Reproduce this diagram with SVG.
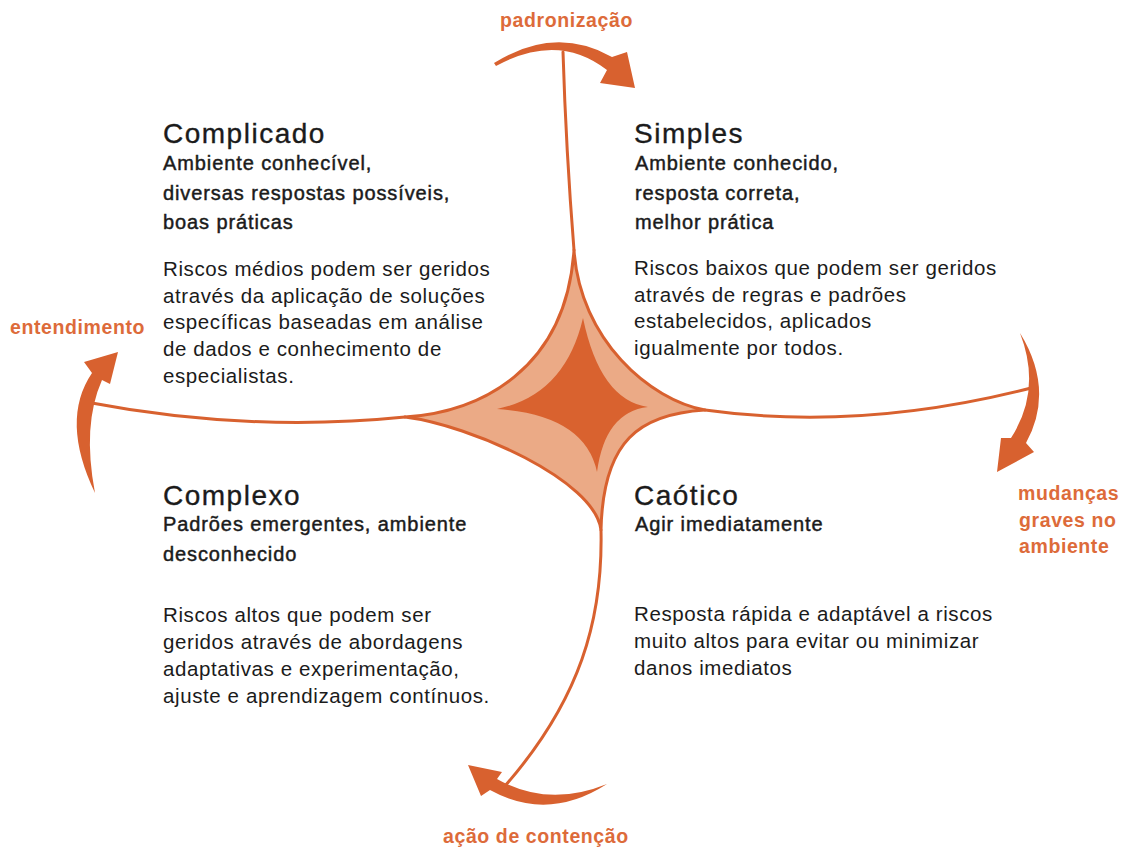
<svg xmlns="http://www.w3.org/2000/svg" width="1128" height="849" viewBox="0 0 1128 849">
<style>
.t{font-family:"Liberation Sans",Arial,sans-serif;fill:#1b1b1b}
.title{font-size:28px;letter-spacing:1.5px;stroke:#1b1b1b;stroke-width:0.35px}
.sub{font-size:20px;letter-spacing:0.9px;stroke:#1b1b1b;stroke-width:0.45px}
.body{font-size:20.5px;letter-spacing:0.6px}
.lbl{font-family:"Liberation Sans",Arial,sans-serif;font-size:19.5px;font-weight:bold;letter-spacing:0.6px;fill:#DD6B3A}
.ax{fill:none;stroke:#D8612F;stroke-width:3;stroke-linecap:round}
.arw{fill:#D8612F}
</style>
<rect width="1128" height="849" fill="#ffffff"/>

<g id="connectors">
  <path class="ax" d="M574,250 Q566,150 563,52"/>
  <path class="ax" d="M405,417 Q248,433 86,402"/>
  <path class="ax" d="M705,410 Q862,432 1035,387"/>
  <path class="ax" d="M601,530 C603,620 580,700 505,786"/>
  <path id="arrow-top" class="arw" d="M494,63 Q555,25 612,57 L627,52 L635,88 L600,83 L607,70 Q558,32 496,66 Z"/>
  <path id="arrow-left" class="arw" d="M95,493 Q60,420 92,373 L84,362 L118,352 L110,384 L102,380 Q82,425 95,493 Z"/>
  <path id="arrow-right" class="arw" d="M1020,333 Q1055,390 1026,443 L1034,452 L997,472 L1001,438 L1011,438 Q1042,390 1020,333 Z"/>
  <path id="arrow-bottom" class="arw" d="M607,784 Q548,822 490,790 L481,796 L468,765 L502,772 L497,779 Q548,808 607,784 Z"/>
</g>

<g id="center-star">
  <path d="M574,250 C580,340 650,400 705,410 C640,414 603,440 601,530 C595,480 470,425 405,417 C480,412 566,370 574,250 Z" fill="#EBAA86" stroke="#D8612F" stroke-width="3" stroke-linejoin="round"/>
  <path d="M583,318 Q600,400 648,407 Q605,412 597,472 Q585,415 497,409 Q565,395 583,318 Z" fill="#D9622F"/>
</g>

<g id="node-complicado">
  <text class="t title" x="163" y="143">Complicado</text>
  <text class="t sub" x="163" y="170">Ambiente conhecível,</text>
  <text class="t sub" x="163" y="199.5">diversas respostas possíveis,</text>
  <text class="t sub" x="163" y="229">boas práticas</text>
  <text class="t body" x="163" y="276">Riscos médios podem ser geridos</text>
  <text class="t body" x="163" y="302.7">através da aplicação de soluções</text>
  <text class="t body" x="163" y="329.4">específicas baseadas em análise</text>
  <text class="t body" x="163" y="356">de dados e conhecimento de</text>
  <text class="t body" x="163" y="382.8">especialistas.</text>
</g>

<g id="node-simples">
  <text class="t title" x="634" y="143">Simples</text>
  <text class="t sub" x="635" y="170">Ambiente conhecido,</text>
  <text class="t sub" x="635" y="199.5">resposta correta,</text>
  <text class="t sub" x="635" y="229">melhor prática</text>
  <text class="t body" x="634" y="275">Riscos baixos que podem ser geridos</text>
  <text class="t body" x="634" y="301.7">através de regras e padrões</text>
  <text class="t body" x="634" y="328.4">estabelecidos, aplicados</text>
  <text class="t body" x="634" y="355">igualmente por todos.</text>
</g>

<g id="node-complexo">
  <text class="t title" x="163" y="505">Complexo</text>
  <text class="t sub" x="163" y="531">Padrões emergentes, ambiente</text>
  <text class="t sub" x="163" y="561">desconhecido</text>
  <text class="t body" x="163" y="622">Riscos altos que podem ser</text>
  <text class="t body" x="163" y="649">geridos através de abordagens</text>
  <text class="t body" x="163" y="676">adaptativas e experimentação,</text>
  <text class="t body" x="163" y="703">ajuste e aprendizagem contínuos.</text>
</g>

<g id="node-caotico">
  <text class="t title" x="634" y="505">Caótico</text>
  <text class="t sub" x="635" y="531">Agir imediatamente</text>
  <text class="t body" x="634" y="621">Resposta rápida e adaptável a riscos</text>
  <text class="t body" x="634" y="648">muito altos para evitar ou minimizar</text>
  <text class="t body" x="634" y="675">danos imediatos</text>
</g>

<g id="label-padronizacao"><text class="lbl" x="500" y="27">padronização</text></g>
<g id="label-entendimento"><text class="lbl" x="10" y="334">entendimento</text></g>
<g id="label-mudancas">
  <text class="lbl" x="1018" y="500">mudanças</text>
  <text class="lbl" x="1019" y="526.5">graves no</text>
  <text class="lbl" x="1019" y="553">ambiente</text>
</g>
<g id="label-acao"><text class="lbl" x="443" y="843">ação de contenção</text></g>
</svg>
